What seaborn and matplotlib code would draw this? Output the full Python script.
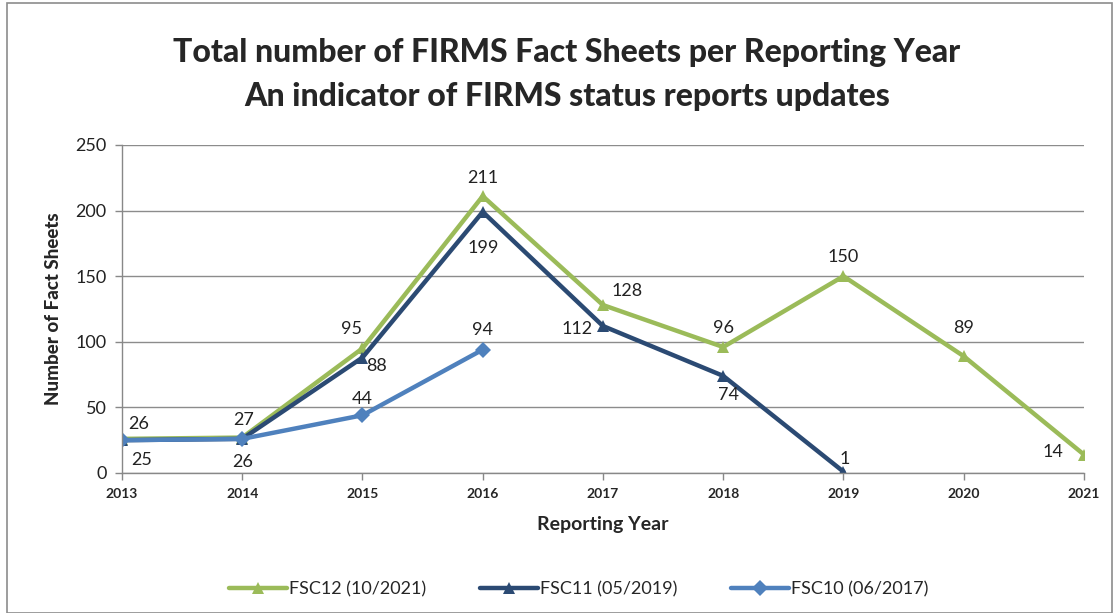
import matplotlib
matplotlib.use("Agg")
import matplotlib.pyplot as plt
import seaborn as sns
import pandas as pd
from matplotlib.patches import Rectangle

years = [2013, 2014, 2015, 2016, 2017, 2018, 2019, 2020, 2021]
fsc12 = [26, 27, 95, 211, 128, 96, 150, 89, 14]
fsc11 = [25, 26, 88, 199, 112, 74, 1]
fsc10 = [25, 26, 44, 94]
series_names = ["FSC12 (10/2021)", "FSC11 (05/2019)", "FSC10 (06/2017)"]

rows = []
for name, vals in zip(series_names, [fsc12, fsc11, fsc10]):
    for y, v in zip(years, vals):
        rows.append({"Year": y, "Value": v, "Series": name})
df = pd.DataFrame(rows)

sns.set_theme(style="white")
plt.rcParams['font.family'] = ['Lato', 'DejaVu Sans']

colors = {series_names[0]: "#9BBB59", series_names[1]: "#2B4A73", series_names[2]: "#4F81BD"}
markers = {series_names[0]: "^", series_names[1]: "^", series_names[2]: "D"}

fig = plt.figure(figsize=(11.16, 6.13), dpi=100)
fig.patches.append(Rectangle((0.006, 0.0), 0.99, 0.995, transform=fig.transFigure,
                             fill=False, edgecolor="#8c8c8c", linewidth=1.2))
ax = fig.add_axes([0.1093, 0.2284, 0.8620, 0.5351])

sns.lineplot(data=df, x="Year", y="Value", hue="Series", style="Series",
             palette=colors, markers=markers, dashes=False, linewidth=3.2,
             markersize=8, markeredgewidth=0, ax=ax, legend=True)

ax.set_xlim(2013, 2021)
ax.set_ylim(0, 250)
ax.set_yticks(range(0, 251, 50))
ax.set_xticks(years)
ax.set_xticklabels([str(y) for y in years], fontweight="bold", fontsize=10)
ax.tick_params(axis="y", labelsize=13, colors="#222222", length=5, direction="out", left=True, width=1, pad=6)
ax.tick_params(axis="x", length=5, direction="out", bottom=True, width=1, color="#888888", pad=6)
ax.tick_params(axis="y", color="#888888")
ax.yaxis.grid(True, color="#8c8c8c", linewidth=1)
ax.set_axisbelow(True)
for s in ["top", "right"]:
    ax.spines[s].set_visible(False)
for s in ["left", "bottom"]:
    ax.spines[s].set_color("#888888")
    ax.spines[s].set_linewidth(1)
ax.set_xlabel("Reporting Year", fontweight="bold", fontsize=14, labelpad=11)
ax.set_ylabel("Number of Fact Sheets", fontweight="black", fontsize=13.5, labelpad=10)

fig.text(0.508, 0.915, "Total number of FIRMS Fact Sheets per Reporting Year",
         ha="center", va="center", fontsize=23, fontweight="black")
fig.text(0.508, 0.842, "An indicator of FIRMS status reports updates",
         ha="center", va="center", fontsize=23, fontweight="black")

lab_kw = dict(textcoords="offset points", fontsize=13, color="#222222", ha="center", va="center")
off12 = [(12, 11), (1, 13), (-8, 14), (0, 13), (17, 10), (0, 14), (0, 14), (0, 20), (-22, 2)]
off11 = [(14, -14), (0, -17), (10, -6), (0, -26), (-19, -2), (4, -14), (1, 9)]
off10 = [(0, 12), (0, 14)]
for y, v, o in zip(years, fsc12, off12):
    ax.annotate(str(v), (y, v), xytext=o, **lab_kw)
for y, v, o in zip(years, fsc11, off11):
    ax.annotate(str(v), (y, v), xytext=o, **lab_kw)
for y, v, o in zip(years[2:4], fsc10[2:4], off10):
    ax.annotate(str(v), (y, v), xytext=o, **lab_kw)

handles, labels = ax.get_legend_handles_labels()
ax.legend(handles, labels, loc="center", bbox_to_anchor=(0.475, -0.355), ncol=3,
          frameon=False, fontsize=13, handlelength=3.2, columnspacing=3, handletextpad=0.1)

fig.savefig("out.png", dpi=100)
